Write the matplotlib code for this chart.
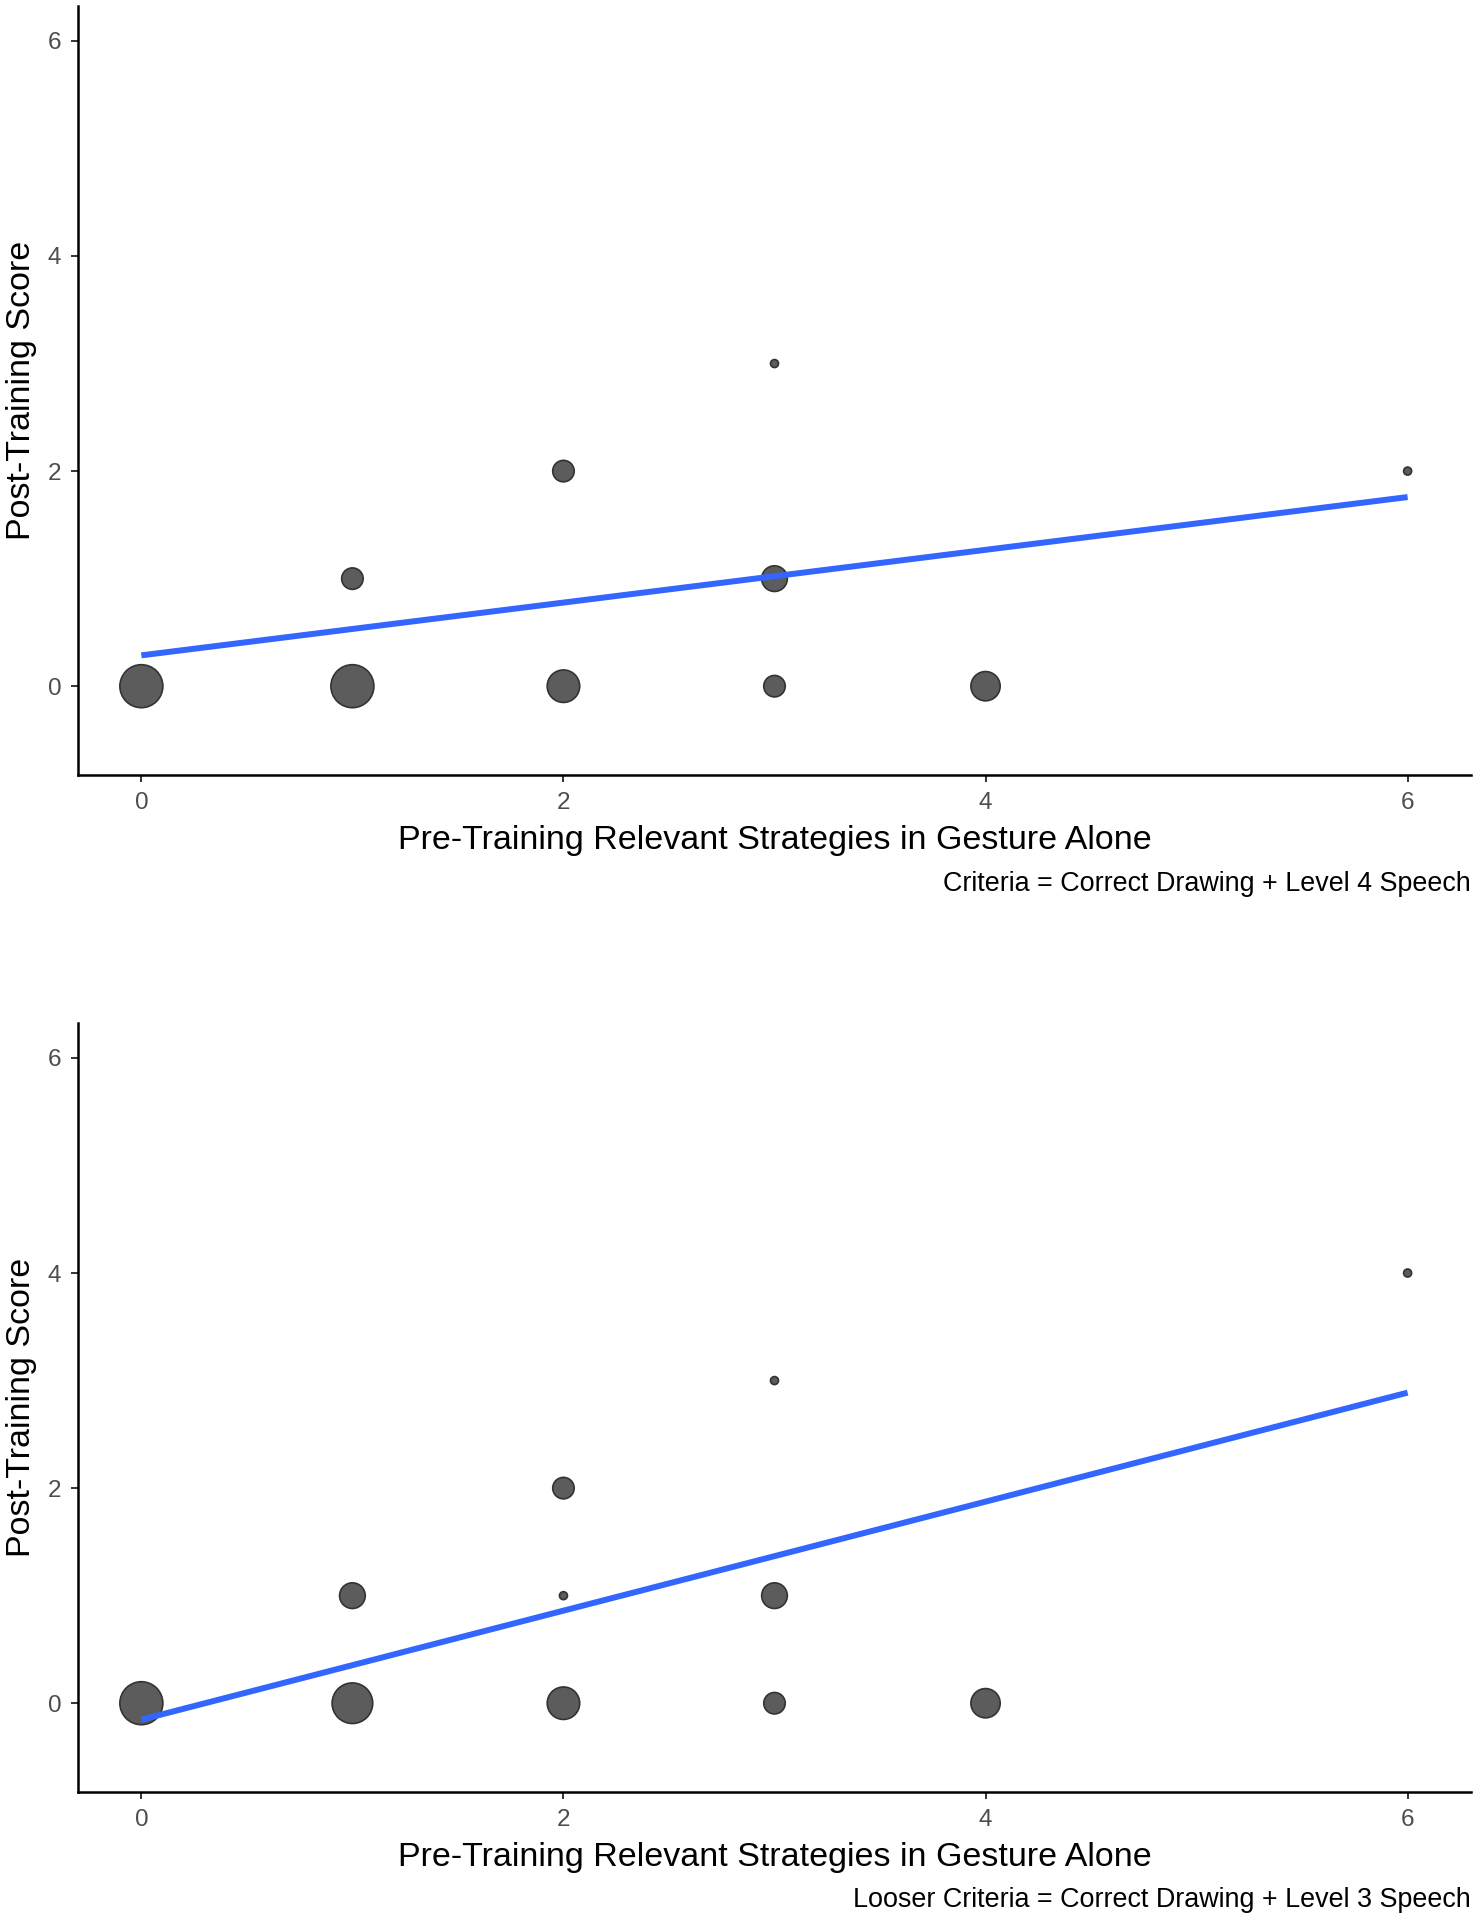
import matplotlib
matplotlib.use("Agg")
import matplotlib.pyplot as plt
import numpy as np

plt.rcParams['font.family'] = ['Liberation Sans', 'DejaVu Sans']

# 上图：严格标准
top_x = [0, 1, 2, 3, 4, 1, 2, 3, 3, 6]
top_y = [0, 0, 0, 0, 0, 1, 2, 1, 3, 2]
top_n = [10, 10, 6, 3, 5, 3, 3, 4, 1, 1]
top_caption = "Criteria = Correct Drawing + Level 4 Speech"

# 下图：宽松标准
bot_x = [0, 1, 2, 3, 4, 1, 2, 2, 3, 3, 6]
bot_y = [0, 0, 0, 0, 0, 1, 1, 2, 1, 3, 4]
bot_n = [10, 9, 6, 3, 5, 4, 1, 3, 4, 1, 1]
bot_caption = "Looser Criteria = Correct Drawing + Level 3 Speech"

x_ticks = [0, 2, 4, 6]
y_ticks = [0, 2, 4, 6]
x_label = "Pre-Training Relevant Strategies in Gesture Alone"
y_label = "Post-Training Score"


def point_sizes(n):
    # 面积与计数线性对应，直径约 8px 到 43px
    n = np.asarray(n, dtype=float)
    d2 = 64 + (n - 1) * (1849 - 64) / 9.0
    return d2 * 0.72 ** 2


def draw_panel(ax, xs, ys, ns):
    ax.scatter(xs, ys, s=point_sizes(ns), facecolor='#5c5c5c',
               edgecolor='#333333', linewidth=1.2, zorder=2)
    slope, icpt = np.polyfit(xs, ys, 1)  # 线性回归
    lx = np.array([min(xs), max(xs)])
    ax.plot(lx, icpt + slope * lx, color='#3366FF', linewidth=4.3,
            solid_capstyle='butt', zorder=3)
    ax.set_xlim(-0.3, 6.3)
    ax.set_ylim(-0.825, 6.325)
    ax.set_xticks(x_ticks)
    ax.set_yticks(y_ticks)
    for side in ['top', 'right']:
        ax.spines[side].set_visible(False)
    for side in ['left', 'bottom']:
        ax.spines[side].set_linewidth(1.8)
        ax.spines[side].set_color('black')
    ax.tick_params(length=5, width=1.4, color='#333333',
                   labelcolor='#4d4d4d', labelsize=17.5, pad=7)
    ax.set_xlabel(x_label, fontsize=24.5, labelpad=8)
    ax.set_ylabel(y_label, fontsize=24.5, labelpad=8)


fig = plt.figure(figsize=(14.81, 19.2), dpi=100)
ax1 = fig.add_axes([0.0527, 0.5964, 0.9405, 0.4005])
ax2 = fig.add_axes([0.0527, 0.0667, 0.9405, 0.4005])

draw_panel(ax1, top_x, top_y, top_n)
draw_panel(ax2, bot_x, bot_y, bot_n)

fig.text(0.9932, 1 - 884 / 1920, top_caption, ha='right', va='center', fontsize=19.4)
fig.text(0.9932, 1 - 1900 / 1920, bot_caption, ha='right', va='center', fontsize=19.4)

fig.savefig("out.png", dpi=100)
